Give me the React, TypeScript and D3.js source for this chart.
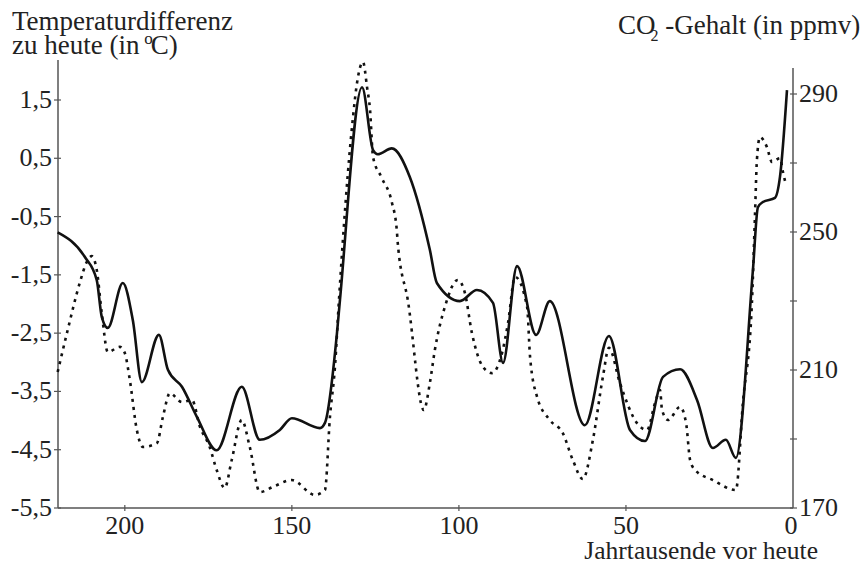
import React from "react";
import * as d3 from "d3";

// Temperature difference (°C), solid line, left axis
const tempAge = [220.1, 212.0, 208.4, 206.9, 205.1, 200.6, 197.6, 194.9, 189.8, 187.1, 182.9, 178.4, 172.5, 165.0, 159.6, 153.6, 150.0, 141.6, 140.1, 136.5, 135.6, 129.0, 125.7, 124.3, 120.1, 114.7, 108.7, 106.6, 99.7, 94.6, 89.8, 86.8, 82.6, 76.9, 72.8, 62.3, 55.1, 48.8, 44.3, 38.9, 33.8, 28.7, 24.0, 20.1, 17.1, 12.0, 10.5, 9.0, 5.4, 3.9, 1.8];
const tempValue = [-0.77, -1.19, -1.59, -2.22, -2.41, -1.64, -2.28, -3.34, -2.53, -3.13, -3.42, -3.94, -4.51, -3.42, -4.33, -4.16, -3.96, -4.13, -4.04, -2.5, -1.93, 1.72, 0.64, 0.57, 0.67, 0.18, -1.07, -1.64, -1.95, -1.76, -1.98, -3.01, -1.35, -2.53, -1.95, -4.08, -2.55, -4.16, -4.35, -3.25, -3.12, -3.65, -4.47, -4.33, -4.64, -1.42, -0.34, -0.25, -0.18, 0.18, 1.67];

// CO2 content (ppmv), dotted line, right axis
const co2Age = [220.1, 217.1, 213.5, 211.4, 209.9, 208.4, 206.9, 205.1, 201.5, 200.0, 198.5, 196.4, 194.6, 190.4, 188.6, 186.5, 182.9, 179.9, 177.5, 174.6, 172.5, 170.1, 168.0, 165.0, 162.6, 159.6, 155.7, 150.0, 143.1, 140.1, 138.6, 137.1, 135.9, 131.7, 130.5, 128.7, 127.5, 126.6, 125.7, 123.1, 120.1, 118.6, 118.3, 115.3, 110.5, 108.7, 107.2, 104.2, 100.3, 98.2, 96.1, 92.8, 90.1, 87.1, 85.3, 83.2, 79.6, 78.7, 76.6, 72.8, 68.9, 65.9, 62.9, 59.9, 56.9, 55.1, 51.8, 46.7, 43.7, 41.3, 39.8, 39.2, 37.4, 33.8, 32.0, 30.8, 29.3, 24.0, 17.1, 15.0, 12.3, 11.4, 10.8, 9.9, 7.8, 6.3, 3.9, 3.0, 2.1];
const co2Value = [209.4, 221.6, 235.2, 241.3, 243.0, 239.0, 226.5, 215.2, 216.7, 214.9, 207.1, 192.6, 187.7, 188.8, 196.4, 203.3, 200.7, 201.3, 193.5, 187.7, 181.0, 175.8, 183.9, 195.5, 187.7, 174.6, 176.1, 178.1, 173.8, 175.2, 196.4, 210.9, 230.3, 283.3, 293.2, 299.3, 292.0, 285.4, 271.7, 265.7, 258.7, 250.6, 246.8, 230.3, 198.4, 206.2, 215.8, 228.3, 236.1, 232.3, 220.7, 210.9, 209.1, 214.9, 223.6, 237.0, 228.3, 213.8, 202.2, 195.5, 191.7, 183.9, 178.4, 189.7, 208.0, 216.4, 206.2, 194.6, 192.6, 200.4, 204.2, 198.4, 195.5, 199.3, 194.6, 183.9, 181.0, 178.1, 175.2, 200.4, 229.4, 254.3, 270.9, 277.5, 274.6, 270.3, 271.4, 267.4, 263.6];

const xTicks = [200, 150, 100, 50, 0];
const tempTicks = [1.5, 0.5, -0.5, -1.5, -2.5, -3.5, -4.5, -5.5];
const co2Ticks = [170, 190, 210, 230, 250, 270, 290];
const co2Labels = [170, 210, 250, 290];

const FONT = "Liberation Serif, Times New Roman, serif";
const AXIS = "#555";
const TEXT = "#222";

export default function App() {
  const W = 861, H = 565;
  const left = 58, right = 793, bottom = 508;
  const x = d3.scaleLinear().domain([220, 0]).range([left, right]);
  const yT = d3.scaleLinear().domain([-5.5, 1.5]).range([bottom, 100]);
  const yC = d3.scaleLinear().domain([170, 290]).range([bottom, 94]);

  const tempData = tempAge.map((a, i) => [a, tempValue[i]] as [number, number]);
  const co2Data = co2Age.map((a, i) => [a, co2Value[i]] as [number, number]);

  const tempLine = d3.line<[number, number]>()
    .x(d => x(d[0])).y(d => yT(d[1])).curve(d3.curveMonotoneX);
  const co2Line = d3.line<[number, number]>()
    .x(d => x(d[0])).y(d => yC(d[1])).curve(d3.curveMonotoneX);

  const fmt = (v: number) => v.toFixed(1).replace(".", ",");

  return (
    <svg width={W} height={H} style={{ position: "absolute", left: 0, top: 0, background: "#fff", fontFamily: FONT }}>
      {/* axes */}
      <line x1={left} y1={60} x2={left} y2={bottom} stroke={AXIS} strokeWidth={1.5} />
      <line x1={right} y1={68} x2={right} y2={bottom} stroke={AXIS} strokeWidth={1.5} />
      <line x1={left} y1={bottom} x2={right} y2={bottom} stroke={AXIS} strokeWidth={1.5} />

      {/* x ticks */}
      {xTicks.map(t => (
        <g key={"x" + t}>
          {t !== 0 && <line x1={x(t)} x2={x(t)} y1={bottom - 3} y2={bottom + 3} stroke={AXIS} strokeWidth={1.2} />}
          <text x={x(t) - (t === 0 ? 2 : 0)} y={534} textAnchor="middle" fontSize={26} fill={TEXT}>{t}</text>
        </g>
      ))}

      {/* left ticks */}
      {tempTicks.map(t => (
        <g key={"t" + t}>
          <line x1={left - 4} x2={left + 3} y1={yT(t)} y2={yT(t)} stroke={AXIS} strokeWidth={1.2} />
          <text x={52} y={yT(t) + 8} textAnchor="end" fontSize={26} fill={TEXT}>{fmt(t)}</text>
        </g>
      ))}

      {/* right ticks */}
      {co2Ticks.map(t => (
        <line key={"c" + t} x1={right - 3} x2={right + 4} y1={yC(t)} y2={yC(t)} stroke={AXIS} strokeWidth={1.2} />
      ))}
      {co2Labels.map(t => (
        <text key={"cl" + t} x={799} y={yC(t) + 8} textAnchor="start" fontSize={26} fill={TEXT}>{t}</text>
      ))}

      {/* data lines */}
      <path d={co2Line(co2Data) || ""} fill="none" stroke="#111" strokeWidth={2.6} strokeDasharray="3,5" />
      <path d={tempLine(tempData) || ""} fill="none" stroke="#111" strokeWidth={2.6} />

      {/* titles */}
      <text x={12} y={30} fontSize={27} fill={TEXT}>Temperaturdifferenz</text>
      <text x={12} y={54} fontSize={27} fill={TEXT}>
        zu heute (in <tspan fontSize={17} dy={-10} dx={-2}>o</tspan><tspan dy={10} dx={-2}>C)</tspan>
      </text>
      <text x={618} y={34} fontSize={27} fill={TEXT}>
        CO<tspan fontSize={16} dy={7} dx={-5}>2</tspan><tspan dy={-7}> -Gehalt (in ppmv)</tspan>
      </text>
      <text x={818} y={559} textAnchor="end" fontSize={25.5} fill={TEXT}>Jahrtausende vor heute</text>
    </svg>
  );
}
